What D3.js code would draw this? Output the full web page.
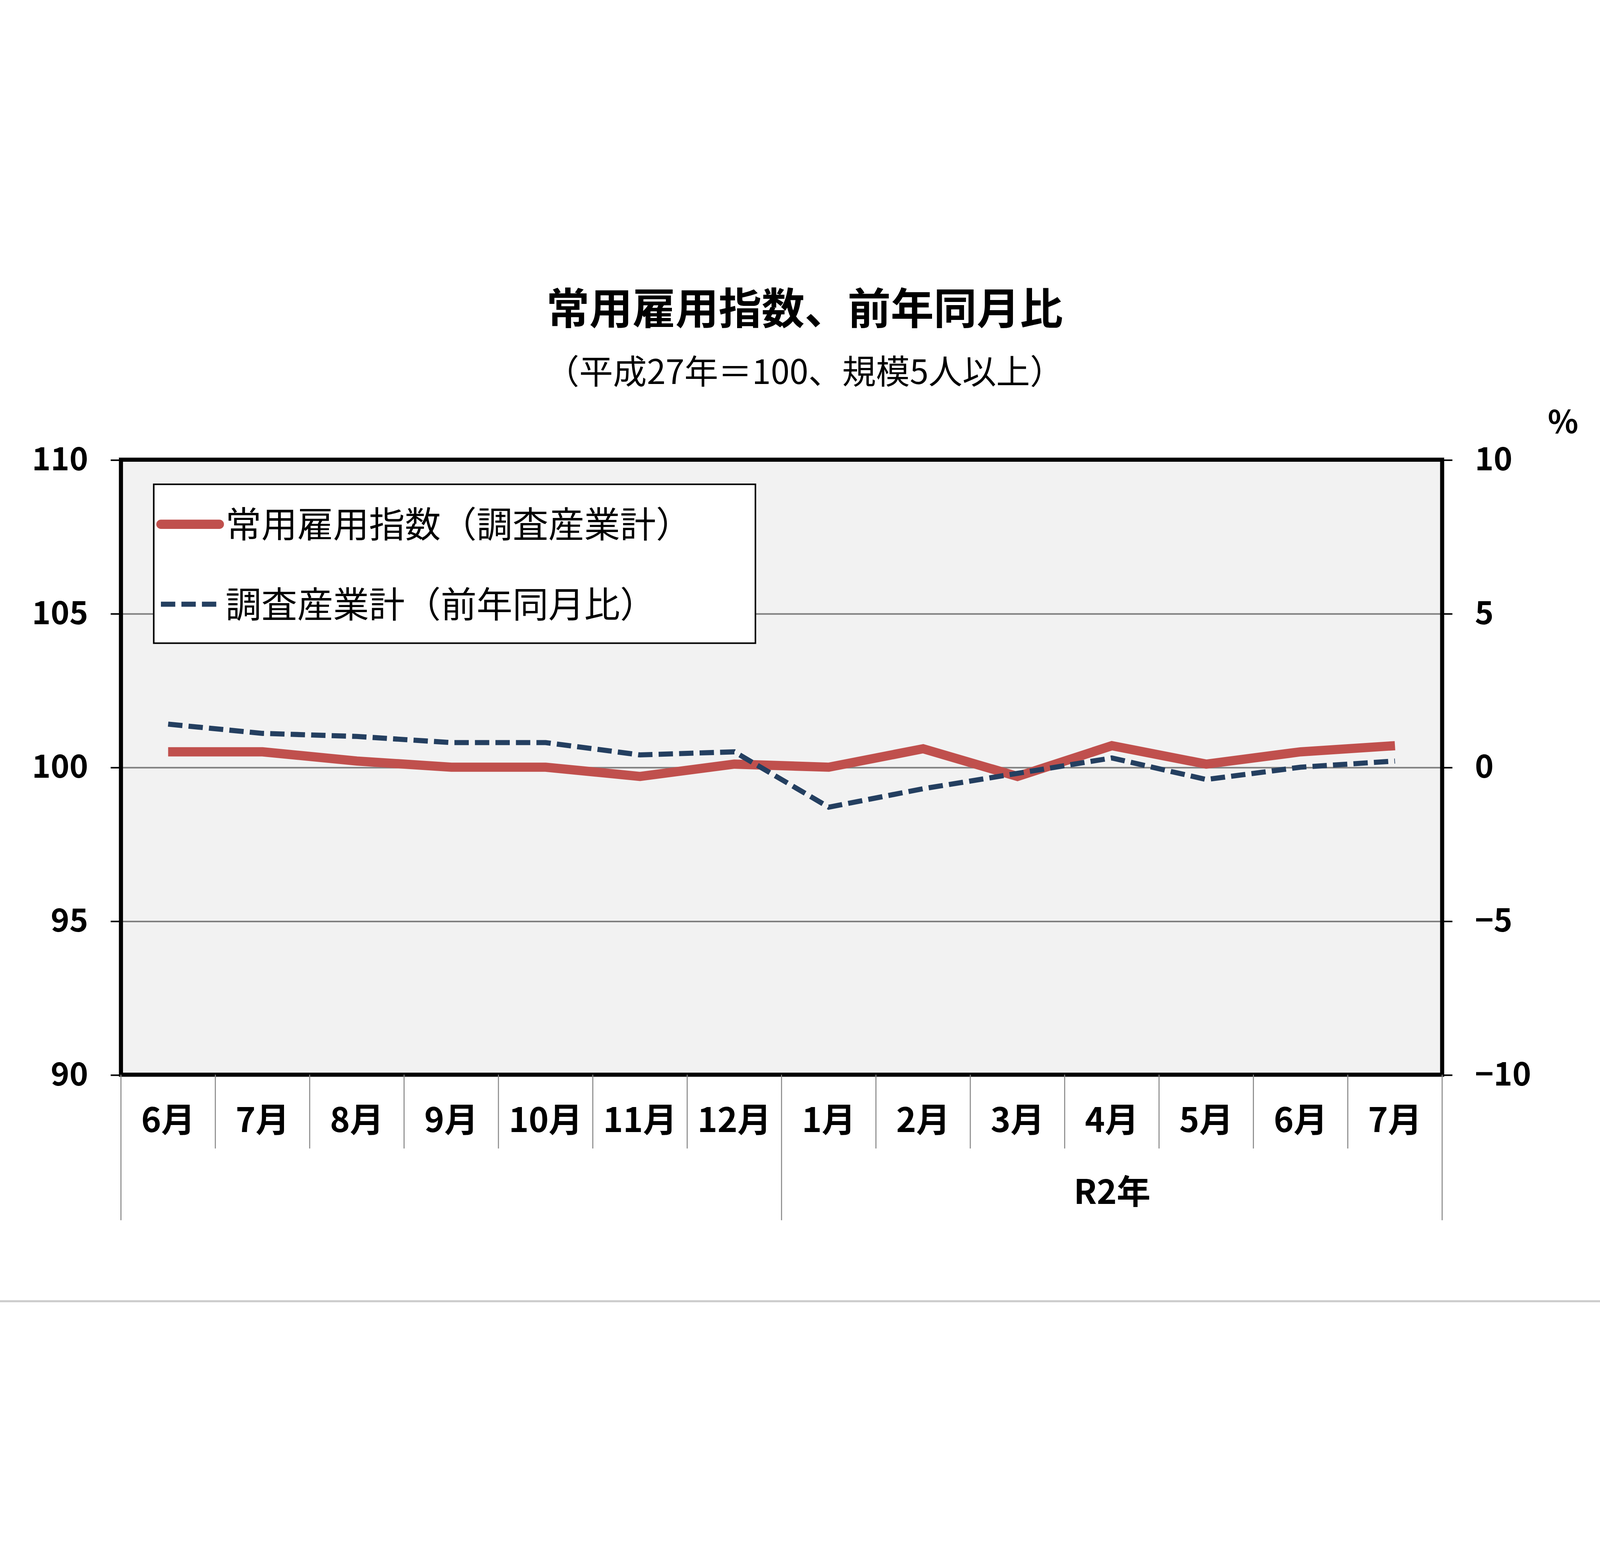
<!DOCTYPE html>
<html><head><meta charset="utf-8">
<script src="https://cdn.jsdelivr.net/npm/d3@7"></script>
<style>html,body{margin:0;padding:0;background:#fff;overflow:hidden;width:100%;height:100%}svg{display:block;width:100vw;height:100vh}text{font-family:"Noto Sans CJK JP","Noto Sans",sans-serif}</style>
</head><body>
<script>
const categories=["6月","7月","8月","9月","10月","11月","12月","1月","2月","3月","4月","5月","6月","7月"];
const indexValues=[100.5,100.5,100.2,100.0,100.0,99.7,100.1,100.0,100.6,99.7,100.7,100.1,100.5,100.7];
const yoyValues=[1.4,1.1,1.0,0.8,0.8,0.4,0.5,-1.3,-0.7,-0.2,0.3,-0.4,0.0,0.2];
const leftTicks=[90,95,100,105,110];
const rightTicks=[-10,-5,0,5,10];
const rightTickLabels=["−10","−5","0","5","10"];
const title="常用雇用指数、前年同月比";
const subtitle="（平成27年＝100、規模5人以上）";
const legendLabels=["常用雇用指数（調査産業計）","調査産業計（前年同月比）"];

const W=1561,H=1020,L=118,R=1407,T=198,B=798;
const svg=d3.select("body").append("svg").attr("viewBox",`0 0 ${W} ${H}`).attr("preserveAspectRatio","xMidYMid meet");
const x=d3.scaleBand().domain(d3.range(categories.length)).range([L,R]);
const yL=d3.scaleLinear().domain([90,110]).range([B,T]);
const yR=d3.scaleLinear().domain([-10,10]).range([B,T]);

svg.append("text").attr("x",785).attr("y",66).attr("text-anchor","middle").attr("font-size",42).attr("font-weight","bold").text(title);
svg.append("text").attr("x",785).attr("y",124).attr("text-anchor","middle").attr("font-size",33).text(subtitle);

svg.append("rect").attr("x",L).attr("y",T).attr("width",R-L).attr("height",B-T).attr("fill","#f2f2f2");
const gl=svg.append("g").attr("transform",`translate(${R},0)`).call(d3.axisLeft(yL).tickValues(leftTicks).tickSize(R-L).tickFormat(""));
gl.select(".domain").remove();
gl.selectAll("line").attr("stroke","#808080").attr("stroke-width",1.5);

const ga=svg.append("g").attr("transform",`translate(${L},0)`).call(d3.axisLeft(yL).tickValues(leftTicks).tickSize(10).tickPadding(22));
ga.select(".domain").remove();
ga.selectAll("text").attr("font-size",31).attr("font-weight","bold").attr("fill","#000").attr("font-family","'Liberation Sans',sans-serif");
ga.selectAll("line").attr("stroke","#000").attr("stroke-width",1.5);
const gr=svg.append("g").attr("transform",`translate(${R},0)`).call(d3.axisRight(yR).tickValues(rightTicks).tickSize(10).tickPadding(22).tickFormat((d,i)=>rightTickLabels[i]));
gr.select(".domain").remove();
gr.selectAll("text").attr("font-size",31).attr("font-weight","bold").attr("fill","#000").attr("font-family","'Liberation Sans',sans-serif");
gr.selectAll("line").attr("stroke","#000").attr("stroke-width",1.5);
svg.append("text").attr("x",1525).attr("y",172).attr("text-anchor","middle").attr("font-size",31).attr("font-weight","bold").attr("font-family","'Liberation Sans',sans-serif").text("%");

const cx=i=>x(i)+x.bandwidth()/2;
svg.append("path").datum(indexValues).attr("fill","none").attr("stroke","#c0504d").attr("stroke-width",9).attr("stroke-linejoin","miter")
 .attr("d",d3.line().x((d,i)=>cx(i)).y(d=>yL(d)));
svg.append("path").datum(yoyValues).attr("fill","none").attr("stroke","#243f60").attr("stroke-width",5).attr("stroke-dasharray","14,6")
 .attr("d",d3.line().x((d,i)=>cx(i)).y(d=>yR(d)));

svg.append("rect").attr("x",L).attr("y",T).attr("width",R-L).attr("height",B-T).attr("fill","none").attr("stroke","#000").attr("stroke-width",4);

const gx=svg.append("g");
categories.forEach((c,i)=>{
  gx.append("text").attr("x",cx(i)).attr("y",854).attr("text-anchor","middle").attr("font-size",33).attr("font-weight","bold").text(c);
});
d3.range(categories.length+1).forEach(i=>{
  const xx=i<categories.length?x(i):R;
  const long=(i===0||i===7||i===categories.length);
  gx.append("line").attr("x1",xx).attr("x2",xx).attr("y1",B).attr("y2",long?940:870).attr("stroke","#888").attr("stroke-width",1);
});
gx.append("text").attr("x",1085).attr("y",924).attr("text-anchor","middle").attr("font-size",33).attr("font-weight","bold").text("R2年");
svg.append("line").attr("x1",0).attr("x2",W).attr("y1",1019).attr("y2",1019).attr("stroke","#ccc").attr("stroke-width",2);

const lg=svg.append("g");
lg.append("rect").attr("x",150).attr("y",222).attr("width",587).attr("height",155).attr("fill","#fff").attr("stroke","#000").attr("stroke-width",1.5);
lg.append("line").attr("x1",157).attr("x2",214).attr("y1",261).attr("y2",261).attr("stroke","#c0504d").attr("stroke-width",9).attr("stroke-linecap","round");
lg.append("line").attr("x1",157).attr("x2",214).attr("y1",339).attr("y2",339).attr("stroke","#243f60").attr("stroke-width",5).attr("stroke-dasharray","14,6");
lg.append("text").attr("x",220).attr("y",274).attr("font-size",35).text(legendLabels[0]);
lg.append("text").attr("x",220).attr("y",352).attr("font-size",35).text(legendLabels[1]);
</script>
</body></html>
